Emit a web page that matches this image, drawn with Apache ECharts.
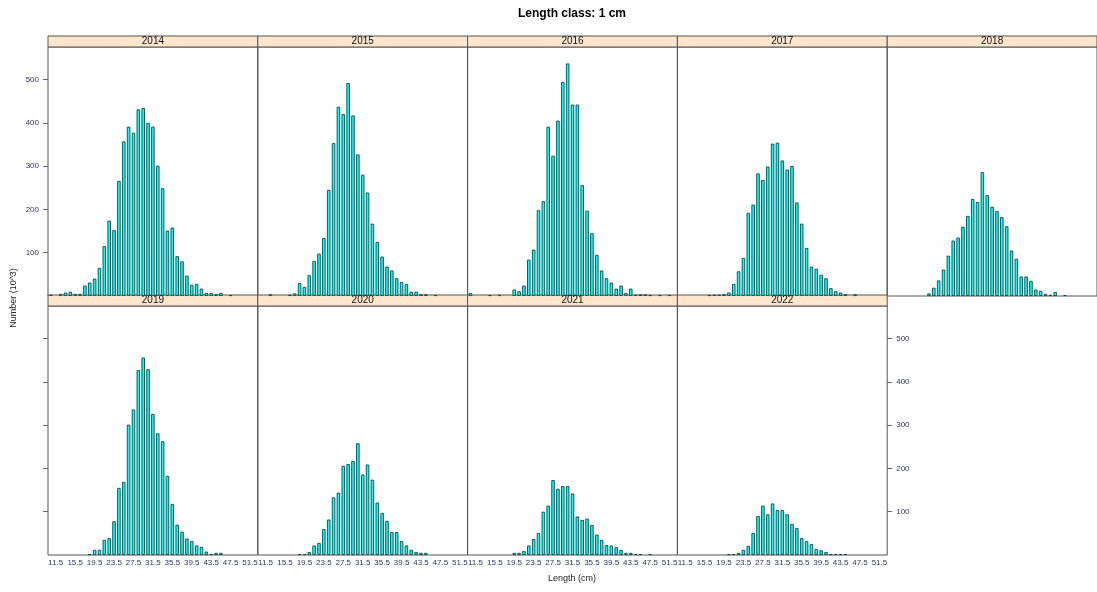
<!DOCTYPE html>
<html>
<head>
<meta charset="utf-8">
<script src="https://cdn.jsdelivr.net/npm/echarts@6/dist/echarts.min.js"></script>
<style>
html, body { margin: 0; padding: 0; background: #fff; }
#eChartHist { width: 1097px; height: 592px; }
</style>
</head>
<body>
<div id="eChartHist"></div>
<script>
// length classes (cm), one bar per class
var lengthClasses = [10.5, 11.5, 12.5, 13.5, 14.5, 15.5, 16.5, 17.5, 18.5, 19.5, 20.5,
    21.5, 22.5, 23.5, 24.5, 25.5, 26.5, 27.5, 28.5, 29.5, 30.5,
    31.5, 32.5, 33.5, 34.5, 35.5, 36.5, 37.5, 38.5, 39.5, 40.5,
    41.5, 42.5, 43.5, 44.5, 45.5, 46.5, 47.5, 48.5, 49.5, 50.5, 51.5];

var years = ['2014', '2015', '2016', '2017', '2018', '2019', '2020', '2021', '2022'];

// numbers (10^3) per length class
var n2014 = [3,0,5,8,10,5, 5,24,31,40,65, 115,174,152,266,357, 391,377,431,434,400, 391,301,249,151,158, 92,80,47,26,28, 17,7,7,4,7, 0,2,0,0,0,0];
var n2015 = [0,0,4,0,0,0, 3,6,30,21,48, 81,98,134,245,353, 437,420,492,417,327, 280,239,167,125,91, 68,59,41,32,28, 10,10,4,4,0, 2,0,0,0,0,0];
var n2016 = [7,0,0,0,2,0, 2,0,0,15,11, 24,84,107,198,219, 391,324,405,494,537, 442,442,256,197,145, 95,59,41,31,17, 24,7,17,3,4, 4,2,0,2,0,2];
var n2017 = [0,0,0,0,0,0, 2,3,3,4,8, 28,57,88,192,211, 283,268,299,352,354, 313,292,300,216,167, 111,68,63,49,41, 18,11,8,4,0, 4,0,0,0,0,0];
var n2018 = [0,0,0,0,0,0, 0,0,6,19,36, 61,93,128,135,160, 185,224,217,286,233, 206,196,182,161,105, 86,45,45,35,15, 12,5,3,9,0, 2,0,0,0,0,0];
var n2019 = [0,0,0,0,0,0, 0,0,2,12,12, 35,39,78,155,169, 301,336,427,456,429, 326,281,263,183,118, 70,54,38,32,22, 19,8,2,5,5, 0,0,0,0,0,0];
var n2020 = [0,0,0,0,0,0, 0,0,2,2,7, 22,28,60,82,133, 144,206,210,217,258, 186,209,174,121,97, 79,53,53,32,22, 12,7,5,5,0, 0,0,0,0,0,0];
var n2021 = [0,0,0,0,0,0, 0,0,0,5,5, 9,22,37,51,100, 114,173,153,159,159, 142,89,81,84,69, 47,35,23,22,18, 12,5,5,2,2, 0,2,0,0,0,0];
var n2022 = [0,0,0,0,0,0, 0,0,0,0,2, 2,5,12,21,51, 90,114,94,119,104, 104,94,72,62,39, 32,25,14,11,7, 2,2,2,2,0, 0,0,0,0,0,0];

var counts = [n2014, n2015, n2016, n2017, n2018, n2019, n2020, n2021, n2022];

var xTicks = [11.5, 15.5, 19.5, 23.5, 27.5, 31.5, 35.5, 39.5, 43.5, 47.5, 51.5];
var yTicks = [100, 200, 300, 400, 500];

var myChart = echarts.init(document.getElementById('eChartHist'));

var panelLeft = 48, panelW = 209.8, panelH = 249, stripH = 11;
var rowTop = [47, 306];
var labelColor = '#34345c';
var font = '"Liberation Sans", Arial, sans-serif';

var grids = [], xAxes = [], yAxes = [], series = [], graphics = [];

years.forEach(function (yr, i) {
    var col = i % 5, row = Math.floor(i / 5);
    var left = panelLeft + col * panelW, top = rowTop[row];

    grids.push({
        left: left, top: top, width: panelW, height: panelH,
        show: true, borderColor: '#555', borderWidth: 1
    });

    xAxes.push({
        gridIndex: i, type: 'value', min: 9.9, max: 53.1,
        axisLine: { show: false }, splitLine: { show: false },
        axisTick: { show: false },
        axisLabel: {
            show: row === 1, customValues: xTicks, fontSize: 8,
            fontFamily: font, color: labelColor, margin: 4
        }
    });

    yAxes.push({
        gridIndex: i, type: 'value', min: 0, max: 575,
        position: i === 8 ? 'right' : 'left',
        axisLine: { show: false }, splitLine: { show: false },
        axisTick: {
            show: i === 0 || i === 5 || i === 8, length: 5,
            customValues: yTicks, lineStyle: { color: '#666' }
        },
        axisLabel: {
            show: i === 0 || i === 8, customValues: yTicks, fontSize: 8,
            fontFamily: font, color: labelColor, margin: 9
        }
    });

    var data = [];
    lengthClasses.forEach(function (x, k) {
        if (counts[i][k] > 0) data.push([x, counts[i][k]]);
    });

    series.push({
        name: yr, type: 'bar', xAxisIndex: i, yAxisIndex: i,
        data: data, barWidth: 3.5, silent: true,
        itemStyle: { color: '#00FFFF', borderColor: '#1a4444', borderWidth: 0.9 }
    });

    // strip above the panel
    graphics.push({
        type: 'rect',
        shape: { x: left, y: top - stripH, width: panelW, height: stripH },
        style: { fill: '#FFE5CC', stroke: '#555', lineWidth: 1 }
    });
    graphics.push({
        type: 'text', x: left + panelW / 2, y: top - stripH / 2,
        style: {
            text: yr, textAlign: 'center', textVerticalAlign: 'middle',
            font: '10px ' + font, fill: '#111'
        }
    });
});

graphics.push({
    type: 'text', x: 572, y: 14,
    style: {
        text: 'Length class: 1 cm', textAlign: 'center', textVerticalAlign: 'middle',
        font: 'bold 12px ' + font, fill: '#000'
    }
});
graphics.push({
    type: 'text', x: 572, y: 579,
    style: {
        text: 'Length (cm)', textAlign: 'center', textVerticalAlign: 'middle',
        font: '9px ' + font, fill: '#222'
    }
});
graphics.push({
    type: 'text', x: 14, y: 298, rotation: Math.PI / 2,
    style: {
        text: 'Number (10^3)', textAlign: 'center', textVerticalAlign: 'middle',
        font: '9px ' + font, fill: '#222'
    }
});

option = {
    backgroundColor: '#fff',
    animation: false,
    grid: grids,
    xAxis: xAxes,
    yAxis: yAxes,
    series: series,
    graphic: graphics
};

myChart.setOption(option);
</script>
</body>
</html>
